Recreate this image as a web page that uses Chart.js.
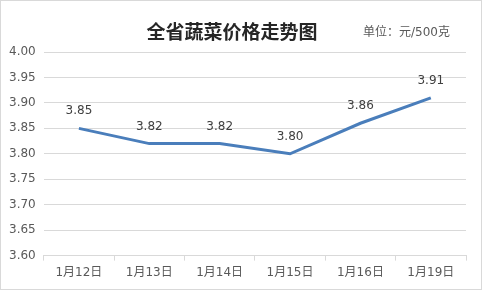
<!DOCTYPE html>
<html>
<head>
<meta charset="utf-8">
<script src="https://cdn.jsdelivr.net/npm/chart.js@4"></script>
<style>
  html, body { margin: 0; padding: 0; background: #fff; }
  .chart-box {
    width: 482px;
    height: 290px;
    box-sizing: border-box;
    border: 1px solid #d9d9d9;
  }
</style>
</head>
<body>
<div class="chart-box">
  <canvas id="priceChart" width="480" height="288"></canvas>
</div>
<script>
const dates = ["1月12日", "1月13日", "1月14日", "1月15日", "1月16日", "1月19日"];
const prices = [3.85, 3.82, 3.82, 3.80, 3.86, 3.91];
const yMin = 3.6;
const yMax = 4.0;
const yStep = 0.05;

const FONT = "'DejaVu Sans', 'Noto Sans CJK SC', sans-serif";

// price above each point
const valueLabels = {
  id: "valueLabels",
  afterDatasetsDraw(chart) {
    const ctx = chart.ctx;
    const meta = chart.getDatasetMeta(0);
    ctx.save();
    ctx.font = "12px " + FONT;
    ctx.fillStyle = "#404040";
    ctx.textAlign = "center";
    ctx.textBaseline = "middle";
    meta.data.forEach((pt, i) => {
      ctx.fillText(prices[i].toFixed(2), pt.x, pt.y - 17);
    });
    ctx.restore();
  }
};

// heading and unit note across the top
const heading = {
  id: "heading",
  afterDraw(chart) {
    const ctx = chart.ctx;
    ctx.save();
    ctx.textBaseline = "middle";
    ctx.textAlign = "center";
    ctx.fillStyle = "#262626";
    ctx.font = "bold 19px 'Noto Sans CJK SC', sans-serif";
    ctx.fillText("全省蔬菜价格走势图", 231, 31);
    ctx.textAlign = "left";
    ctx.fillStyle = "#595959";
    ctx.font = "12px " + FONT;
    ctx.fillText("单位：元/500克", 362, 32);
    ctx.restore();
  }
};

new Chart(document.getElementById("priceChart"), {
  type: "line",
  data: {
    labels: dates,
    datasets: [{
      data: prices,
      borderColor: "#4a7ebb",
      borderWidth: 3,
      pointRadius: 0,
      tension: 0,
      fill: false
    }]
  },
  options: {
    responsive: false,
    animation: false,
    layout: { padding: { left: 0, right: 15, top: 51, bottom: 4 } },
    plugins: {
      legend: { display: false },
      tooltip: { enabled: false },
      title: { display: false }
    },
    scales: {
      x: {
        offset: true,
        grid: {
          offset: true,
          drawOnChartArea: false,
          color: "#d9d9d9",
          tickLength: 5
        },
        border: { color: "#d9d9d9" },
        ticks: {
          color: "#595959",
          font: { family: FONT, size: 12 },
          padding: 5,
          maxRotation: 0
        }
      },
      y: {
        min: yMin,
        max: yMax,
        grid: { color: "#d9d9d9", drawTicks: false },
        border: { display: false },
        ticks: {
          stepSize: yStep,
          color: "#595959",
          font: { family: FONT, size: 12 },
          padding: 8,
          callback: v => Number(v).toFixed(2)
        }
      }
    }
  },
  plugins: [valueLabels, heading]
});
</script>
</body>
</html>
